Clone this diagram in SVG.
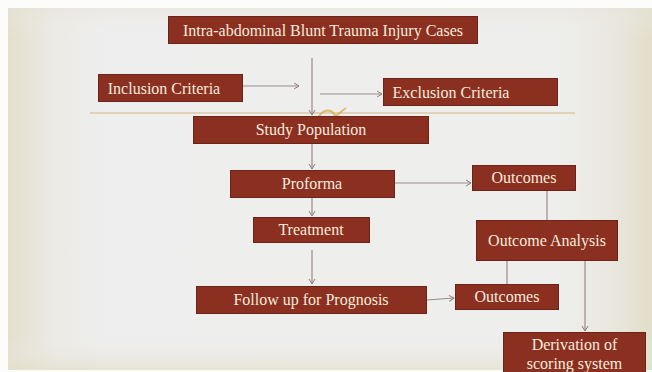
<svg xmlns="http://www.w3.org/2000/svg" width="652" height="372" viewBox="0 0 652 372">
<defs>
<linearGradient id="bgH" x1="0" y1="0" x2="1" y2="0">
<stop offset="0" stop-color="#e3dfcc"/>
<stop offset="0.07" stop-color="#ebeae4"/>
<stop offset="0.15" stop-color="#eeeeee"/>
<stop offset="0.86" stop-color="#eeeeec"/>
<stop offset="0.94" stop-color="#e9e7de"/>
<stop offset="1" stop-color="#e2decb"/>
</linearGradient>
<linearGradient id="bgV" x1="0" y1="0" x2="0" y2="1">
<stop offset="0" stop-color="#e6e3d6" stop-opacity="0.5"/>
<stop offset="0.08" stop-color="#eeeeee" stop-opacity="0"/>
<stop offset="0.9" stop-color="#eeeeee" stop-opacity="0"/>
<stop offset="1" stop-color="#e3dfcc" stop-opacity="0.7"/>
</linearGradient>
<marker id="arr" markerWidth="8" markerHeight="8" refX="6" refY="4" orient="auto" markerUnits="userSpaceOnUse">
<path d="M1,1 L6,4 L1,7" fill="none" stroke="#8f7f7c" stroke-width="1"/>
</marker>
</defs>
<style>
.box{fill:#8b2f20;stroke:#6a2418;stroke-width:1}
.t{font-family:"Liberation Serif","Times New Roman",serif;font-size:16px;fill:#f6ecdd;text-anchor:middle}
.c{fill:none;stroke:#9b8b89;stroke-width:1.2}
</style>
<rect x="0" y="0" width="652" height="372" fill="#fcfcfb"/>
<rect x="8" y="8" width="644" height="362" fill="url(#bgH)"/>
<rect x="8" y="8" width="644" height="362" fill="url(#bgV)"/>
<line x1="90" y1="113" x2="575" y2="113" stroke="#dcc8a4" stroke-width="1.5"/>
<path d="M318,118 C322,110 330,108 334,114 C336,118 340,112 346,108" fill="none" stroke="#d6aa4c" stroke-width="2" opacity="0.75"/>

<g id="connectors">
<line class="c" x1="312" y1="58" x2="312" y2="115" marker-end="url(#arr)"/>
<line class="c" x1="242" y1="86" x2="299" y2="86" marker-end="url(#arr)"/>
<line class="c" x1="320" y1="94" x2="382" y2="94" marker-end="url(#arr)"/>
<line class="c" x1="312" y1="143" x2="312" y2="169" marker-end="url(#arr)"/>
<line class="c" x1="312" y1="197" x2="312" y2="216" marker-end="url(#arr)"/>
<line class="c" x1="312" y1="250" x2="312" y2="284" marker-end="url(#arr)"/>
<line class="c" x1="395" y1="183" x2="471" y2="183" marker-end="url(#arr)"/>
<line class="c" x1="547" y1="191" x2="547" y2="220"/>
<line class="c" x1="507" y1="260" x2="507" y2="284"/>
<line class="c" x1="585" y1="260" x2="585" y2="331" marker-end="url(#arr)"/>
<line class="c" x1="427" y1="300" x2="454" y2="298" marker-end="url(#arr)"/>
</g>

<g id="title"><rect class="box" x="168.5" y="16.5" width="309" height="27"/><text class="t" x="323" y="35.5">Intra-abdominal Blunt Trauma Injury Cases</text></g>
<g id="inclusion"><rect class="box" x="98.5" y="74.5" width="144" height="27"/><text class="t" x="164" y="93.5">Inclusion Criteria</text></g>
<g id="exclusion"><rect class="box" x="383.5" y="78.5" width="174" height="27"/><text class="t" x="451" y="97.5">Exclusion Criteria</text></g>
<g id="study"><rect class="box" x="193.5" y="116.5" width="235" height="27"/><text class="t" x="311" y="135">Study Population</text></g>
<g id="proforma"><rect class="box" x="230.5" y="170.5" width="164" height="27"/><text class="t" x="312" y="189">Proforma</text></g>
<g id="treatment"><rect class="box" x="253.5" y="217.5" width="116" height="25"/><text class="t" x="311" y="235">Treatment</text></g>
<g id="followup"><rect class="box" x="196.5" y="286.5" width="230" height="27"/><text class="t" x="311" y="305">Follow up for Prognosis</text></g>
<g id="outcomes1"><rect class="box" x="472.5" y="165.5" width="103" height="25"/><text class="t" x="524" y="183">Outcomes</text></g>
<g id="analysis"><rect class="box" x="476.5" y="220.5" width="141" height="40"/><text class="t" x="547" y="246">Outcome Analysis</text></g>
<g id="outcomes2"><rect class="box" x="455.5" y="284.5" width="103" height="25"/><text class="t" x="507" y="302">Outcomes</text></g>
<g id="derivation"><rect class="box" x="503.5" y="332.5" width="142" height="45"/><text class="t" x="574.5" y="350">Derivation of</text><text class="t" x="574.5" y="369">scoring system</text></g>
</svg>
